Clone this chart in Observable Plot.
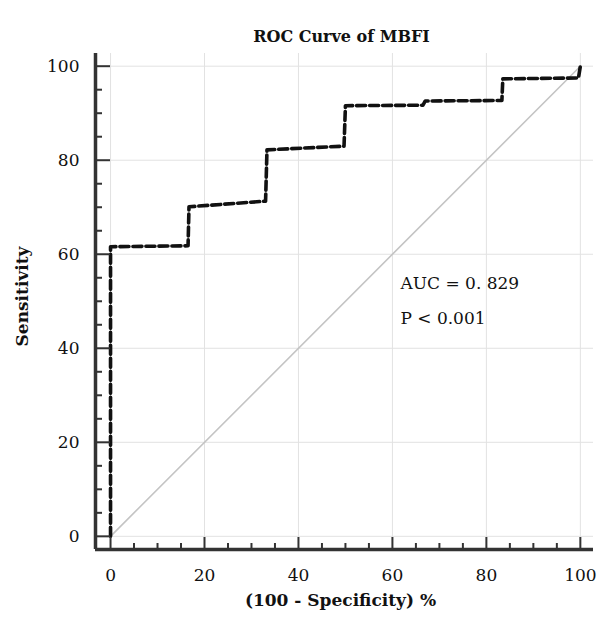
<!DOCTYPE html>
<html>
<head>
<meta charset="utf-8">
<script src="https://cdn.jsdelivr.net/npm/d3@7"></script>
<script src="https://cdn.jsdelivr.net/npm/@observablehq/plot@0.6"></script>
<style>
  html, body { margin: 0; padding: 0; background: #fff; }
  svg { display: block; }
</style>
</head>
<body>
<div id="chart"></div>
<script>
// ROC curve points (100 - specificity, sensitivity)
const fpr = [0, 0, 16.5, 16.7, 33.0, 33.3, 49.7, 50.0, 66.5, 67.0, 83.3, 83.5, 99.6, 100];
const tpr = [0, 61.6, 61.8, 70.1, 71.3, 82.2, 83.0, 91.6, 91.7, 92.6, 92.7, 97.3, 97.5, 100];
const majorTicks = [0, 20, 40, 60, 80, 100];
const minorTicks = [5, 10, 15, 25, 30, 35, 45, 50, 55, 65, 70, 75, 85, 90, 95];
const title = "ROC Curve of MBFI";
const xLabel = "(100 - Specificity) %";
const yLabel = "Sensitivity";
const annotations = ["AUC = 0. 829", "P < 0.001"];

const roc = fpr.map((x, i) => ({x, y: tpr[i]}));
const diag = [{x: 0, y: 0}, {x: 100, y: 100}];
const font = "'DejaVu Serif', serif";
const xDom = [-3.2, 102.8];
const yDom = [-2.8, 102.7];

const chart = Plot.plot({
  width: 598,
  height: 621,
  marginLeft: 95,
  marginRight: 5,
  marginTop: 53,
  marginBottom: 72,
  style: {fontFamily: font, fontSize: "16px", color: "#111", background: "#fff"},
  x: {domain: xDom},
  y: {domain: yDom},
  marks: [
    Plot.ruleY(majorTicks, {y: d => d, stroke: "#e2e2e2", strokeWidth: 1}),
    Plot.ruleX(majorTicks, {x: d => d, stroke: "#e2e2e2", strokeWidth: 1}),
    Plot.line(diag, {x: "x", y: "y", stroke: "#c4c4c4", strokeWidth: 1.6}),
    Plot.line(roc, {x: "x", y: "y", stroke: "#111", strokeWidth: 3.6, strokeDasharray: "9,4"}),
    Plot.axisX(majorTicks, {anchor: "bottom", tickSize: -12, tickPadding: 31, tickFormat: d => String(d), label: null, stroke: "#333", strokeWidth: 2, fontSize: 17}),
    Plot.axisX(minorTicks, {anchor: "bottom", tickSize: -6, tickFormat: () => "", label: null, stroke: "#333", strokeWidth: 2}),
    Plot.axisY(majorTicks, {anchor: "left", tickSize: -15, tickPadding: 31, tickFormat: d => String(d), label: null, stroke: "#333", strokeWidth: 2, fontSize: 17}),
    Plot.axisY(minorTicks, {anchor: "left", tickSize: -7, tickFormat: () => "", label: null, stroke: "#333", strokeWidth: 2}),
    Plot.ruleX([xDom[0]], {stroke: "#333", strokeWidth: 3.5}),
    Plot.ruleY([yDom[0]], {stroke: "#333", strokeWidth: 3.5}),
    Plot.text([annotations[0]], {x: 61.7, y: 53.8, text: d => d, textAnchor: "start", fontSize: 17, fill: "#111"}),
    Plot.text([annotations[1]], {x: 61.7, y: 46.4, text: d => d, textAnchor: "start", fontSize: 17, fill: "#111"}),
    Plot.text([title], {frameAnchor: "top", dy: -23, dx: -3, text: d => d, fontSize: 16, fontWeight: "bold", fill: "#111"}),
    Plot.text([xLabel], {frameAnchor: "bottom", dy: 56, dx: -4, text: d => d, fontSize: 17, fontWeight: "bold", fill: "#111"}),
    Plot.text([yLabel], {frameAnchor: "left", textAnchor: "middle", dx: -73, dy: -5, rotate: -90, text: d => d, fontSize: 17, fontWeight: "bold", fill: "#111"})
  ]
});
document.getElementById("chart").appendChild(chart);
</script>
</body>
</html>
